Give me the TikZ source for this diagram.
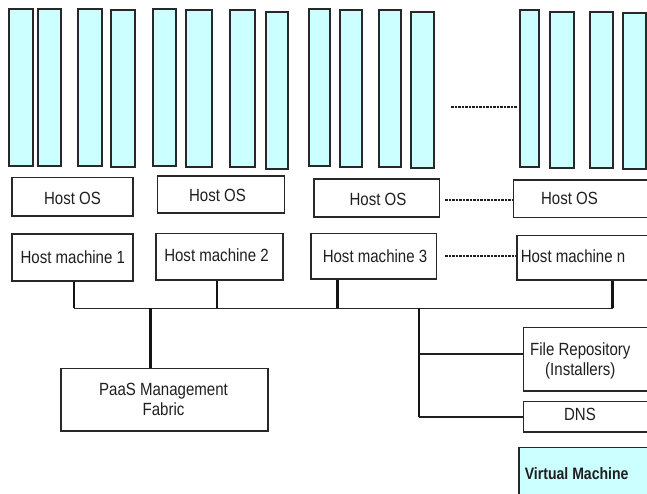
\documentclass[tikz,border=0pt]{standalone}
\usepackage{graphicx}
\usepackage{fontspec}
\setmainfont{Liberation Sans}
\definecolor{vmcyan}{RGB}{204,255,255}
\definecolor{edge}{RGB}{40,40,40}
\newcommand\tallt[1]{\scalebox{0.97}[1.14]{#1}}
\tikzset{
  bar/.style={draw=edge, line width=1.7pt, fill=vmcyan},
  box/.style={draw=edge, line width=1.5pt, fill=white, inner sep=0pt},
  txt/.style={font=\fontsize{15.5}{19}\selectfont, inner sep=0pt, text=black!88, align=center},
  link/.style={draw=black!92, line width=2.5pt},
  bus/.style={draw=black!85, line width=1.6pt},
  branch/.style={draw=black!88, line width=1.9pt},
  dots/.style={draw=black!88, line width=2pt, dash pattern=on 2.5pt off 1pt}
}
\begin{document}
\begin{tikzpicture}[x=1pt,y=-1pt]
\useasboundingbox (0,0) rectangle (647,493);
\clip (0,0) rectangle (647,493);
\fill[white] (0,0) rectangle (647,493);
% virtual machine bars
\foreach \a/\b/\c/\d in {9.3/9/33.3/165.7, 38.3/9/61/166, 78.3/9/102/166, 111.3/10/135/167,
  152.7/9/176.3/166, 185.7/10/212/167, 229.7/10/254.7/167, 265.7/12/287.7/168.7,
  309.3/9/330.3/165.7, 339.7/10/362/167, 379.3/10/400.7/167, 411/11.7/433.7/168.3,
  520/10/539.3/167, 550/11.7/574/168, 590/11.7/613.3/168, 623.3/13/646/169}
  \draw[bar] (\a,\b) rectangle (\c,\d);
\coordinate (dA) at (451,107.3);
\coordinate (dB) at (517,107.3);
\draw[dots] (dA) -- (dB);
% Host OS boxes
\node[box, anchor=north west, minimum width=121pt, minimum height=38.3pt] (os1) at (11,176.7) {};
\node[box, anchor=north west, minimum width=127pt, minimum height=37pt] (os2) at (156.7,175.3) {};
\node[box, anchor=north west, minimum width=125.4pt, minimum height=37.7pt] (os3) at (313.3,178.3) {};
\node[box, anchor=north west, minimum width=160pt, minimum height=37.7pt] (os4) at (512.7,179) {};
\node[txt] (t-os1) at (72.5,198.3) {\tallt{Host OS}};
\node[txt] (t-os2) at (217.5,195) {\tallt{Host OS}};
\node[txt] (t-os3) at (378,199.3) {\tallt{Host OS}};
\node[txt] (t-os4) at (569.5,198) {\tallt{Host OS}};
\draw[dots] (os3.east |- 0,200) ++(5,0) coordinate (oA) -- (os4.west |- 0,200) coordinate (oB);
% Host machines
\node[box, anchor=north west, minimum width=121.3pt, minimum height=47pt] (hm1) at (11,233) {};
\node[box, anchor=north west, minimum width=127pt, minimum height=46.6pt] (hm2) at (155.3,232.7) {};
\node[box, anchor=north west, minimum width=125.7pt, minimum height=45.6pt] (hm3) at (310,232.7) {};
\node[box, anchor=north west, minimum width=160pt, minimum height=44.6pt] (hmn) at (516,234.7) {};
\node[txt] (t-hm1) at (72.8,256.7) {\tallt{Host machine 1}};
\node[txt] (t-hm2) at (216.5,255) {\tallt{Host machine 2}};
\node[txt] (t-hm3) at (375,255.7) {\tallt{Host machine 3}};
\node[txt] (t-hmn) at (573,256.5) {\tallt{Host machine n}};
\draw[dots] (hm3.east |- 0,255.7) ++(8,0) coordinate (mA) -- (hmn.west |- 0,255.7) ++(-9,0) coordinate (mB);
% bus
\coordinate (b1) at (74,308.3);
\coordinate (b2) at (217,308.3);
\coordinate (b3) at (337.7,308.3);
\coordinate (bn) at (612.7,308.3);
\coordinate (bp) at (150.7,308.3);
\coordinate (br) at (419,308.3);
\draw[bus] (b1) -- (bn);
\draw[link] (hm1.south -| b1) -- (b1);
\draw[link] (hm2.south -| b2) -- (b2);
\draw[link] (hm3.south -| b3) -- (b3);
\draw[link] (hmn.south -| bn) -- (bn);
% PaaS
\node[box, anchor=north west, minimum width=207pt, minimum height=62.3pt] (paas) at (60.3,367.7) {};
\node[txt] (t-paas) at (163.5,399.5) {\tallt{PaaS Management}\\[1pt]\tallt{Fabric}};
\draw[link] (bp) -- (paas.north -| bp);
% services
\node[box, anchor=north west, minimum width=150pt, minimum height=63.3pt] (repo) at (522.7,326.7) {};
\node[txt] (t-repo) at (580.3,360.5) {\tallt{File Repository}\\[1pt]\tallt{(Installers)}};
\node[box, anchor=north west, minimum width=150pt, minimum height=30.3pt] (dns) at (522.7,400.7) {};
\node[txt] (t-dns) at (580,414.3) {\tallt{DNS}};
\coordinate (rj) at (419,354.3);
\coordinate (rd) at (419,417.3);
\draw[link] (br) -- (rd);
\draw[branch] (rj) -- (repo.west |- rj);
\draw[branch] (rd) -- (dns.west |- rd);
% legend
\node[box, fill=vmcyan, anchor=north west, minimum width=150pt, minimum height=60pt] (vm) at (518.3,446.7) {};
\node[txt, font=\fontsize{14.5}{17}\selectfont\bfseries] (t-vm) at (576.7,473.3) {\tallt{Virtual Machine}};
\end{tikzpicture}
\end{document}
